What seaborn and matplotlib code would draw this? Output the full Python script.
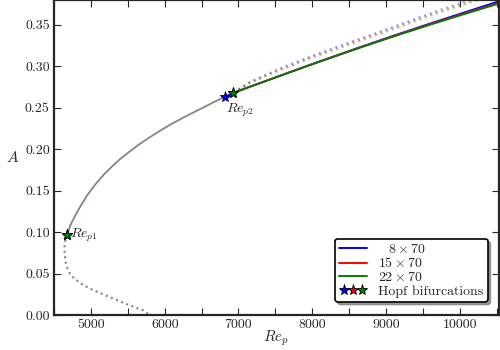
import seaborn as sns
import matplotlib.pyplot as plt
from matplotlib.lines import Line2D
from matplotlib.legend_handler import HandlerTuple
from matplotlib.ticker import MultipleLocator, FuncFormatter

# shared branch (all resolutions overlap)
lower_re = [4680, 4660, 4648, 4643, 4644, 4650, 4662, 4682, 4715, 4760, 4820, 4897,
            5031, 5165, 5299, 5432, 5589, 5713, 5790]
lower_A = [0.097, 0.093, 0.088, 0.082, 0.076, 0.069, 0.062, 0.056, 0.050, 0.0455,
           0.041, 0.036, 0.030, 0.025, 0.020, 0.015, 0.0095, 0.0055, 0.0]
upper_re = [4680, 4720, 4770, 4850, 4950, 5060, 5176, 5290, 5401, 5515, 5626, 5740,
            5851, 5965, 6077, 6190, 6302, 6415, 6527, 6670, 6820]
upper_A = [0.097, 0.108, 0.117, 0.130, 0.1445, 0.1575, 0.1695, 0.1795, 0.1885, 0.1965,
           0.204, 0.211, 0.2175, 0.2238, 0.2297, 0.2352, 0.2405, 0.2455, 0.2505,
           0.257, 0.2635]

colors = ["blue", "red", "green"]

hopf2_re = [6820, 6930, 6930]
hopf2_A = [0.2635, 0.268, 0.268]
hopf1_re = 4680
hopf1_A = 0.097

branch_re = [6930, 7150, 7554, 8000, 8635, 9100, 9581, 10050, 10500]
branch_A = {
    "blue": [0.268, 0.2752, 0.2883, 0.3028, 0.3227, 0.3369, 0.3512, 0.3647, 0.3777],
    "red": [0.268, 0.2752, 0.2883, 0.3026, 0.3224, 0.3364, 0.3504, 0.3635, 0.3759],
    "green": [0.268, 0.2752, 0.2883, 0.3025, 0.3221, 0.3359, 0.3497, 0.3627, 0.3749],
}
orbit_re = [6930, 7150, 7554, 8000, 8635, 9100, 9581, 10050, 10500]
orbit_A = {
    "blue": [0.268, 0.2812, 0.2972, 0.3129, 0.3331, 0.3478, 0.3635, 0.3777, 0.3900],
    "red": [0.268, 0.2803, 0.2960, 0.3116, 0.3317, 0.3463, 0.3619, 0.3760, 0.3884],
    "green": [0.268, 0.2795, 0.2949, 0.3103, 0.3302, 0.3447, 0.3603, 0.3743, 0.3867],
}

sns.set_style("ticks")
plt.rcParams["font.family"] = "serif"
plt.rcParams["font.serif"] = ["cmr10"]
plt.rcParams["mathtext.fontset"] = "cm"
plt.rcParams["axes.formatter.use_mathtext"] = True

fig = plt.figure(figsize=(5, 3.5), dpi=100)
ax = fig.add_axes([0.108, 0.1, 0.89, 0.9])

gray = "#8f7f86"
sns.lineplot(x=lower_re, y=lower_A, sort=False, estimator=None, color=gray,
             linestyle=":", linewidth=1.5, ax=ax)
sns.lineplot(x=upper_re, y=upper_A, sort=False, estimator=None, color=gray,
             linewidth=1.3, ax=ax)

for i, c in enumerate(colors):
    xs = [hopf2_re[i]] + branch_re
    ys = [hopf2_A[i]] + branch_A[c]
    sns.lineplot(x=xs, y=ys, sort=False, estimator=None, color=c,
                 linewidth=1.3, ax=ax)
    sns.lineplot(x=orbit_re, y=orbit_A[c], sort=False, estimator=None, color=c,
                 alpha=0.3, linestyle=":", linewidth=1.6, ax=ax)

for i, c in enumerate(colors):
    ax.plot(hopf1_re, hopf1_A, marker="*", markersize=8, color=c,
            markeredgecolor="black", markeredgewidth=0.6, linestyle="none", zorder=5)
    ax.plot(hopf2_re[i], hopf2_A[i], marker="*", markersize=8, color=c,
            markeredgecolor="black", markeredgewidth=0.6, linestyle="none", zorder=5)

ax.text(4720, 0.0955, r"$Re_{p1}$", fontsize=10, va="center", ha="left")
ax.text(6830, 0.257, r"$Re_{p2}$", fontsize=10, va="top", ha="left")

ax.set_xlim(4500, 10530)
ax.set_ylim(0, 0.38)
ax.xaxis.set_major_locator(MultipleLocator(1000))
ax.xaxis.set_minor_locator(MultipleLocator(500))
ax.yaxis.set_major_locator(MultipleLocator(0.05))
ax.xaxis.set_major_formatter(FuncFormatter(lambda v, p: f"{int(v)}"))
ax.yaxis.set_major_formatter(FuncFormatter(lambda v, p: f"{v:.2f}"))
ax.tick_params(which="both", direction="in", top=True, right=True,
               length=5, width=0.8, labelsize=10, pad=3)
for s in ax.spines.values():
    s.set_linewidth(1.6)

ax.set_xlabel(r"$Re_p$", fontsize=11, labelpad=-2)
ax.set_ylabel(r"$A$", fontsize=11, rotation=0, labelpad=9, va="center")

handles = [Line2D([], [], color=c, linewidth=1.4) for c in colors]
stars = tuple(Line2D([], [], marker="*", markersize=8, color=c, markeredgecolor="black",
                     markeredgewidth=0.6, linestyle="none") for c in colors)
leg_labels = [r"$\ \ \,8\times70$", r"$15\times70$", r"$22\times70$", "Hopf bifurcations"]
leg = ax.legend(handles + [stars], leg_labels, loc="lower right",
                handler_map={tuple: HandlerTuple(ndivide=None, pad=0)},
                fontsize=10, frameon=True, fancybox=True, shadow=True,
                handlelength=2.0, labelspacing=0.05, borderpad=0.3,
                bbox_to_anchor=(0.99, 0.02))
leg.get_frame().set_edgecolor("black")
leg.get_frame().set_linewidth(1.2)
leg.get_frame().set_alpha(1)

plt.savefig("out.png", dpi=100)
